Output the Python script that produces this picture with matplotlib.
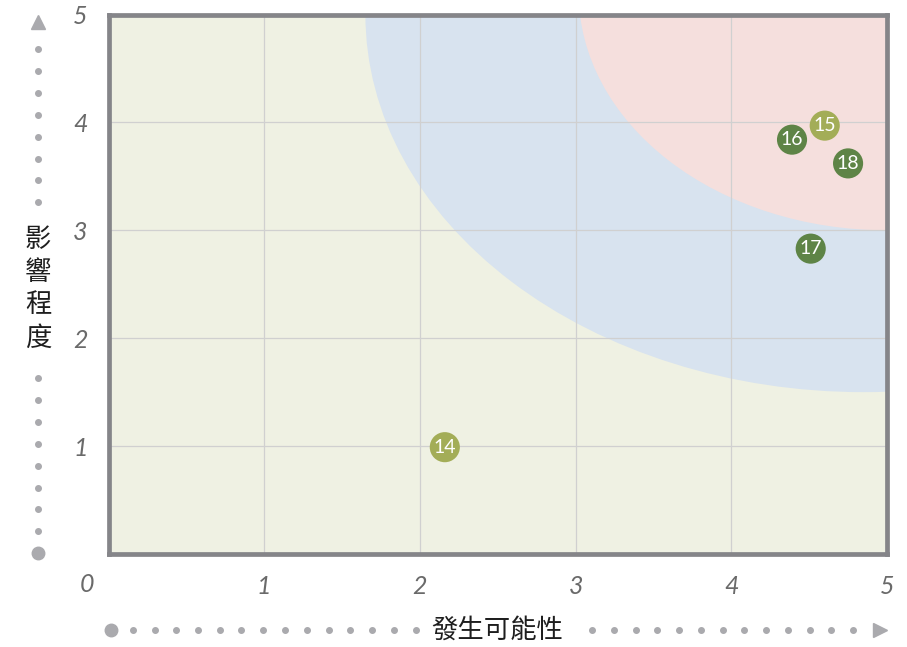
import matplotlib
matplotlib.use("Agg")
import matplotlib.pyplot as plt
from matplotlib.patches import Ellipse

plt.rcParams['font.family'] = ['Lato', 'Noto Sans CJK TC', 'DejaVu Sans']

# 風險項目 (編號, 發生可能性, 影響程度)
ids = ['14', '15', '16', '17', '18']
likelihood = [2.16, 4.60, 4.39, 4.51, 4.75]
impact = [0.99, 3.97, 3.84, 2.83, 3.62]
point_colors = ['#a3ad57', '#a3ad57', '#5e8446', '#5e8446', '#5e8446']

ticks = [1, 2, 3, 4, 5]
x_title = '發生可能性'
y_title = '影響程度'

W, H = 907, 647
fig = plt.figure(figsize=(W / 100, H / 100), dpi=100)
ax = fig.add_axes([108.5 / W, (H - 554) / H, (887 - 108.5) / W, (554 - 14.5) / H])
ax.set_xlim(0, 5)
ax.set_ylim(0, 5)
ax.set_facecolor('#eff1e3')

# 風險區塊
ax.add_patch(Ellipse((4.85, 5), 6.4, 7.0, color='#d8e3ef', lw=0, zorder=1))
ax.add_patch(Ellipse((5.0, 5.2), 3.96, 4.4, color='#f5dfdd', lw=0, zorder=1.1))

ax.set_axisbelow('line')
ax.grid(True, color='#d0d0d0', linewidth=0.9)
ax.set_xticks(ticks)
ax.set_yticks(ticks)
ax.set_xticklabels([str(t) for t in ticks])
ax.set_yticklabels([str(t) for t in ticks])
ax.tick_params(length=0, labelsize=18, labelcolor='#6a6a6a', pad=15)
for lab in ax.get_xticklabels() + ax.get_yticklabels():
    lab.set_fontstyle('italic')
ax.text(-22 / 155.7, -31 / 107.9, '0', fontsize=18, color='#6a6a6a', style='italic',
        ha='center', va='center', clip_on=False)
for s in ax.spines.values():
    s.set_color('#858589')
    s.set_linewidth(3.4)

ax.scatter(likelihood, impact, s=470, c=point_colors, zorder=3, linewidths=0)
for i, lbl in enumerate(ids):
    ax.text(likelihood[i], impact[i], lbl, color='white', fontsize=14,
            ha='center', va='center', zorder=4)

# 軸線裝飾 (點線與箭頭), 像素座標
def px(x, y):
    return x / W, 1 - y / H

dot_c = '#aaaaae'
tf = fig.transFigure
# 左側
fig.lines.append(plt.Line2D(*zip(px(38, 22)), marker='^', ms=10, color=dot_c, transform=tf))
for k in range(8):
    fig.lines.append(plt.Line2D(*zip(px(38, 49 + 21.9 * k)), marker='o', ms=4, color=dot_c, transform=tf))
for k in range(8):
    fig.lines.append(plt.Line2D(*zip(px(38, 378 + 21.9 * k)), marker='o', ms=4, color=dot_c, transform=tf))
fig.lines.append(plt.Line2D(*zip(px(38, 553)), marker='o', ms=9, color=dot_c, transform=tf))
for k, ch in enumerate(y_title):
    fig.text(*px(38, 239 + 33 * k), ch, fontsize=19, color='#1e1e1e', ha='center', va='center',
             family=['Noto Sans CJK TC'], weight='medium')
# 底部
fig.lines.append(plt.Line2D(*zip(px(111, 630)), marker='o', ms=9, color=dot_c, transform=tf))
for k in range(1, 15):
    fig.lines.append(plt.Line2D(*zip(px(111 + 21.75 * k, 630)), marker='o', ms=4, color=dot_c, transform=tf))
for k in range(13):
    fig.lines.append(plt.Line2D(*zip(px(592 + 21.75 * k, 630)), marker='o', ms=4, color=dot_c, transform=tf))
fig.lines.append(plt.Line2D(*zip(px(880, 630)), marker='>', ms=10, color=dot_c, transform=tf))
fig.text(*px(497, 630), x_title, fontsize=19, color='#1e1e1e', ha='center', va='center',
         family=['Noto Sans CJK TC'], weight='medium')

fig.savefig('out.png', dpi=100)
